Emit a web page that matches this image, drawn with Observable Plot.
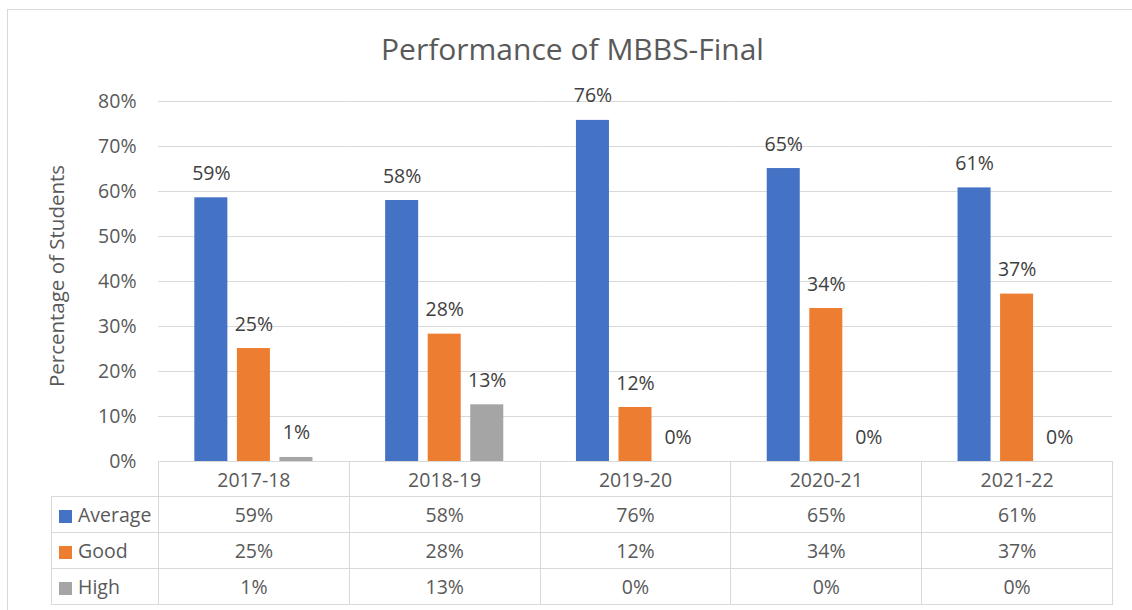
<!DOCTYPE html>
<html>
<head>
<meta charset="utf-8">
<script src="https://cdn.jsdelivr.net/npm/d3@7"></script>
<script src="https://cdn.jsdelivr.net/npm/@observablehq/plot@0.6"></script>
<style>
  body { margin: 0; background: #fff; }
  #wrap { position: relative; width: 1132px; height: 610px; overflow: hidden; font-family: "Open Sans", Lato, sans-serif; color: #595959; }
  #border { position: absolute; left: 7px; top: 9px; width: 1150px; height: 650px; border: 1px solid #d9d9d9; box-sizing: border-box; }
  #title { position: absolute; left: 0; width: 1145px; top: 31px; text-align: center; font-size: 30px; font-weight: 400; line-height: 36px; color: #595959; white-space: nowrap; }
  #ylabel { position: absolute; left: 56px; top: 276px; transform: translate(-50%, -50%) rotate(-90deg); font-size: 20.5px; white-space: nowrap; color: #595959; }
  #chart { position: absolute; left: 0; top: 0; }
  #tbl { position: absolute; border-collapse: collapse; table-layout: fixed; font-size: 19.5px; color: #595959; }
  #tbl td { border: 1px solid #d9d9d9; text-align: center; padding: 0; white-space: nowrap; }
  #tbl td.key { text-align: left; padding-left: 7px; }
  .sw { display: inline-block; width: 13px; height: 13px; margin-right: 6px; vertical-align: -1px; }
</style>
</head>
<body>
<div id="wrap">
  <div id="border"></div>
  <div id="title">Performance of MBBS-Final</div>
  <div id="ylabel">Percentage of Students</div>
  <div id="chart"></div>
</div>
<script>
const years = ["2017-18", "2018-19", "2019-20", "2020-21", "2021-22"];
const seriesNames = ["Average", "Good", "High"];
const average = [58.6, 58.0, 75.8, 65.1, 60.8];
const good = [25.1, 28.3, 12.0, 34.0, 37.2];
const high = [0.9, 12.6, 0, 0, 0];
const seriesColors = ["#4472C4", "#ED7D31", "#A5A5A5"];
const yTicks = [0, 10, 20, 30, 40, 50, 60, 70, 80];

const seriesValues = [average, good, high];
const rows = [];
years.forEach((yr, i) => {
  seriesNames.forEach((s, j) => rows.push({year: yr, series: s, value: seriesValues[j][i]}));
});
const pct = v => Math.round(v) + "%";

const plot = Plot.plot({
  width: 1132,
  height: 462,
  marginTop: 101,
  marginBottom: 1,
  marginLeft: 158,
  marginRight: 20,
  style: {fontFamily: "'Open Sans', Lato, sans-serif", fontSize: "19.5px", color: "#595959", background: "transparent", overflow: "visible"},
  fx: {domain: years, padding: 0, axis: null, label: null, round: false},
  x: {domain: seriesNames, paddingInner: 0.224, paddingOuter: 0.854, axis: null, label: null, round: false},
  y: {domain: [0, 80], label: null},
  color: {domain: seriesNames, range: seriesColors},
  marks: [
    Plot.gridY(yTicks, {stroke: "#d9d9d9", strokeOpacity: 1, strokeWidth: 1}),
    Plot.axisY(yTicks, {tickFormat: d => d + "%", tickSize: 0, tickPadding: 22, fontSize: 19.5, label: null, fill: "#595959"}),
    Plot.barY(rows, {fx: "year", x: "series", y: "value", fill: "series"}),
    Plot.text(rows, {fx: "year", x: "series", y: "value", text: d => pct(d.value), lineAnchor: "bottom", dy: -18, fontSize: 19.5, fill: "#404040"})
  ]
});
document.getElementById("chart").appendChild(plot);

// Data table below the plot, columns aligned to the fx scale
const fx = plot.scale("fx");
const y = plot.scale("y");
const tableLeft = 51;
const firstColW = fx.apply(years[0]) - tableLeft;
const colW = fx.step;
const tbl = document.createElement("table");
tbl.id = "tbl";
tbl.style.left = tableLeft + "px";
tbl.style.top = y.apply(0) + "px";
const colgroup = document.createElement("colgroup");
[firstColW, ...years.map(() => colW)].forEach(w => {
  const c = document.createElement("col");
  c.style.width = w + "px";
  colgroup.appendChild(c);
});
tbl.appendChild(colgroup);
const head = document.createElement("tr");
head.style.height = "35px";
const blank = document.createElement("td");
blank.style.borderTop = "none";
blank.style.borderLeft = "none";
head.appendChild(blank);
years.forEach(yr => {
  const td = document.createElement("td");
  td.textContent = yr;
  head.appendChild(td);
});
tbl.appendChild(head);
seriesNames.forEach((s, j) => {
  const tr = document.createElement("tr");
  tr.style.height = "36px";
  const k = document.createElement("td");
  k.className = "key";
  const sw = document.createElement("span");
  sw.className = "sw";
  sw.style.background = seriesColors[j];
  k.appendChild(sw);
  k.appendChild(document.createTextNode(s));
  tr.appendChild(k);
  seriesValues[j].forEach(v => {
    const td = document.createElement("td");
    td.textContent = pct(v);
    tr.appendChild(td);
  });
  tbl.appendChild(tr);
});
document.getElementById("wrap").appendChild(tbl);
</script>
</body>
</html>
